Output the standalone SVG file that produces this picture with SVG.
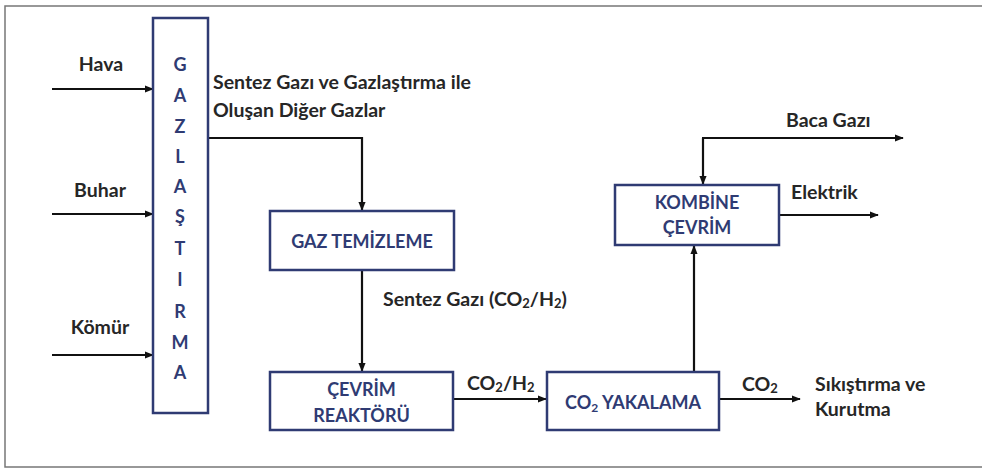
<svg xmlns="http://www.w3.org/2000/svg" width="982" height="468" viewBox="0 0 982 468">
<style>
.box{fill:#fff;stroke:#2f3b73;stroke-width:2.5}
.bt{font-family:Lato,"Liberation Sans",sans-serif;font-weight:bold;font-size:18px;fill:#2f3b73;text-anchor:middle;dominant-baseline:central}
.lt{font-family:Lato,"Liberation Sans",sans-serif;font-weight:bold;font-size:19.5px;fill:#262626;dominant-baseline:central}
.ln{fill:none;stroke:#111;stroke-width:2.2}
</style>
<defs>
<marker id="ah" viewBox="0 0 10 10" refX="9" refY="5" markerWidth="9" markerHeight="9" orient="auto" markerUnits="userSpaceOnUse">
<path d="M0,1 L10,5 L0,9 Z" fill="#111"/>
</marker>
</defs>
<rect width="982" height="468" fill="#fff"/>
<path d="M982,6 H5 V467 H982" fill="none" stroke="#777" stroke-width="1.5"/>

<g id="connectors">
<line class="ln" x1="52" y1="89" x2="153" y2="89" marker-end="url(#ah)"/>
<line class="ln" x1="52" y1="214" x2="153" y2="214" marker-end="url(#ah)"/>
<line class="ln" x1="52" y1="355" x2="153" y2="355" marker-end="url(#ah)"/>
<path class="ln" d="M208,138 H362 V210" marker-end="url(#ah)"/>
<line class="ln" x1="362" y1="270" x2="362" y2="371" marker-end="url(#ah)"/>
<line class="ln" x1="453" y1="399" x2="546" y2="399" marker-end="url(#ah)"/>
<line class="ln" x1="694" y1="372" x2="694" y2="246" marker-end="url(#ah)"/>
<path class="ln" d="M703,138 V184" marker-end="url(#ah)"/>
<line class="ln" x1="702" y1="138" x2="903" y2="138" marker-end="url(#ah)"/>
<line class="ln" x1="779" y1="215" x2="878" y2="215" marker-end="url(#ah)"/>
<line class="ln" x1="719" y1="399" x2="800" y2="399" marker-end="url(#ah)"/>
</g>

<g id="labels">
<text class="lt" x="101" y="63" text-anchor="middle">Hava</text>
<text class="lt" x="100" y="189" text-anchor="middle">Buhar</text>
<text class="lt" x="100" y="326" text-anchor="middle">Kömür</text>
<text class="lt" x="213" y="81">Sentez Gazı ve Gazlaştırma ile</text>
<text class="lt" x="213" y="109">Oluşan Diğer Gazlar</text>
<text class="lt" x="383" y="298">Sentez Gazı (CO<tspan font-size="13" dy="5">2</tspan><tspan dy="-5">/H</tspan><tspan font-size="13" dy="5">2</tspan><tspan dy="-5">)</tspan></text>
<text class="lt" x="467" y="382">CO<tspan font-size="13" dy="5">2</tspan><tspan dy="-5">/H</tspan><tspan font-size="13" dy="5">2</tspan></text>
<text class="lt" x="786" y="119">Baca Gazı</text>
<text class="lt" x="791" y="191">Elektrik</text>
<text class="lt" x="742" y="383">CO<tspan font-size="13" dy="5">2</tspan></text>
<text class="lt" x="815" y="383">Sıkıştırma ve</text>
<text class="lt" x="815" y="408">Kurutma</text>
</g>

<g id="gazlastirma">
<rect class="box" x="153" y="18" width="55" height="395"/>
<text class="bt" x="180" y="64">G</text>
<text class="bt" x="180" y="95">A</text>
<text class="bt" x="180" y="126">Z</text>
<text class="bt" x="180" y="156">L</text>
<text class="bt" x="180" y="186">A</text>
<text class="bt" x="180" y="216">Ş</text>
<text class="bt" x="180" y="248">T</text>
<text class="bt" x="180" y="279">I</text>
<text class="bt" x="180" y="311">R</text>
<text class="bt" x="180" y="342">M</text>
<text class="bt" x="180" y="372">A</text>
</g>

<g id="gaz-temizleme">
<rect class="box" x="270" y="211" width="184" height="59"/>
<text class="bt" x="362" y="241">GAZ TEMİZLEME</text>
</g>

<g id="cevrim-reaktoru">
<rect class="box" x="270" y="372" width="183" height="58"/>
<text class="bt" x="361.5" y="389">ÇEVRİM</text>
<text class="bt" x="361.5" y="415">REAKTÖRÜ</text>
</g>

<g id="co2-yakalama">
<rect class="box" x="547" y="372" width="172" height="58"/>
<text class="bt" x="633" y="402">CO<tspan font-size="12" dy="5">2</tspan><tspan dy="-5"> YAKALAMA</tspan></text>
</g>

<g id="kombine-cevrim">
<rect class="box" x="615" y="185" width="164" height="60"/>
<text class="bt" x="697" y="202">KOMBİNE</text>
<text class="bt" x="697" y="227">ÇEVRİM</text>
</g>
</svg>
